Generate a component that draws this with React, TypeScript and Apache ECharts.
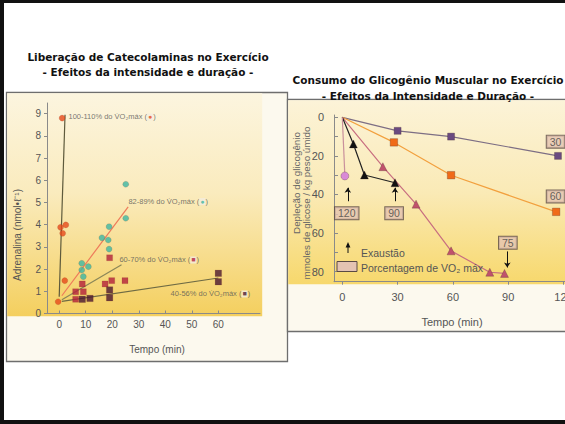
import React, { useEffect, useRef } from "react";
import * as echarts from "echarts";

// ---------- Left chart data (Adrenalina x Tempo) ----------
const leftXTicks = [0, 10, 20, 30, 40, 50, 60];
const leftYTicks = [0, 1, 2, 3, 4, 5, 6, 7, 8, 9];
const pts100 = [[-0.4, 0.53], [1.1, 8.8], [0.5, 3.88], [1.3, 3.61], [2.5, 3.99], [2.1, 1.48]];
const pts82 = [[8.5, 2.26], [8.5, 1.96], [9.1, 1.66], [11, 2.11], [16.1, 3.41], [18.8, 3.91], [18.5, 3.31], [18.8, 2.9], [25.1, 5.82], [25.1, 4.29]];
const pts60 = [[6.2, 0.98], [6.2, 0.64], [8.7, 1.33], [9.1, 0.98], [17.3, 1.33], [19.8, 1.48], [19.0, 2.51], [24.8, 1.48]];
const pts40 = [[8.7, 0.64], [11.6, 0.68], [19.0, 1.06], [19.0, 0.71], [60, 1.81], [60, 1.43]];
const fit100 = [[0, 0.75], [2.2, 8.95]];
const fit82 = [[1, 0.8], [26, 4.8]];
const fit60 = [[1, 0.62], [23.5, 2.2]];
const fit40 = [[1, 0.55], [60, 1.6]];
const leftLabelTexts = ["100-110% do V\u0307O\u2082máx", "82-89% do V\u0307O\u2082máx", "60-70% do V\u0307O\u2082máx", "40-56% do V\u0307O\u2082máx"];
const leftLabelPos = [[3.3, 8.85], [25.9, 5.04], [22.5, 2.41], [41.8, 0.88]];
const leftLabelGlyphs = ["●", "●", "■", "■"];

// ---------- Right chart data (Glicogênio x Tempo) ----------
const rightXTicks = [0, 30, 60, 90, 120];
const rightYLabels = [0, 20, 40, 60, 80];
const rightYTicks = [0, 10, 20, 30, 40, 50, 60, 70, 80];
const glyco30 = [[0, 0], [30, 7], [59, 10], [117, 20]];
const glyco60 = [[0, 0], [28, 13], [59, 30], [116, 49]];
const glyco75 = [[0, 0], [22, 25.6], [40, 45], [59, 69.2], [80, 80.3], [88, 80.9]];
const glyco90 = [[0, 0], [6, 13.8], [12, 29.9], [28.6, 33.9]];
const glyco120 = [[0, 0], [1.4, 30.4]];
const pctBoxPos = [[115.7, 12.6], [115.7, 41], [2.4, 49.7], [28.1, 49.7], [89.8, 65]];
const pctBoxText = ["30", "60", "120", "90", "75"];
const exhaustArrows = [[3, 43.5, 36.5], [28.6, 43.5, 36.5], [89.5, 69.5, 77.8]];

const C100 = "#e64a1a";
const C82 = "#3db7a2";
const C60 = "#b3213b";
const C40 = "#4a1730";
const FONT = '"Liberation Sans", Arial, sans-serif';
const TFONT = '"Comic Sans MS", "DejaVu Sans", sans-serif';

export default function App() {
  const ref = useRef<HTMLDivElement>(null);
  useEffect(() => {
    if (!ref.current) return;
    const chart = echarts.init(ref.current, undefined, { renderer: "svg" });

    const scatter = (data: number[][], symbol: string, color: string, size: number) => ({
      type: "scatter", xAxisIndex: 0, yAxisIndex: 0, data, symbol, symbolSize: size,
      itemStyle: { color, borderColor: "rgba(120,40,20,0.35)", borderWidth: 0.5 }, z: 4,
    });
    const fit = (data: number[][], color: string) => ({
      type: "line", xAxisIndex: 0, yAxisIndex: 0, data, symbol: "none",
      lineStyle: { color, width: 1.2 }, z: 3,
    });
    const glyco = (data: number[][], symbol: string, color: string, lineColor: string, size: number) => ({
      type: "line", xAxisIndex: 1, yAxisIndex: 1, symbol, symbolSize: size,
      data: data.map((d, i) => (i === 0 ? { value: d, symbol: "none" } : d)),
      itemStyle: { color, borderColor: "rgba(60,30,30,0.5)", borderWidth: 0.5 },
      lineStyle: { color: lineColor, width: 1.2 }, z: 3,
    });
    const glyphColors = [C100, C82, C60, C40];

    const gradLeft = { type: "linear", x: 0, y: 0, x2: 0, y2: 1, colorStops: [
      { offset: 0, color: "#fcf5df" }, { offset: 0.45, color: "#faebbd" }, { offset: 1, color: "#f4cf5e" }] };
    const gradRight = { type: "linear", x: 0, y: 0, x2: 0, y2: 1, colorStops: [
      { offset: 0, color: "#fcf3d8" }, { offset: 0.5, color: "#faeab6" }, { offset: 1, color: "#f7d86c" }] };

    chart.setOption({
      animation: false,
      backgroundColor: "#ffffff",
      grid: [
        { left: 47, right: 305, top: 103, bottom: 110.5, outerBoundsMode: "none", containLabel: false },
        { left: 334, right: 0, top: 115, bottom: 142.3, outerBoundsMode: "none", containLabel: false },
      ],
      xAxis: [
        {
          type: "value", gridIndex: 0, min: -4.6, max: 75.7,
          axisLine: { onZero: false, lineStyle: { color: "#8a8a8a", width: 1 } },
          axisTick: { inside: true, length: 3, customValues: leftXTicks, lineStyle: { color: "#8a8a8a" } },
          axisLabel: { customValues: leftXTicks, margin: 6, fontSize: 10, color: "#555", fontFamily: FONT },
          splitLine: { show: false },
        },
        {
          type: "value", gridIndex: 1, min: -4.5, max: 120.8,
          axisLine: { onZero: false, lineStyle: { color: "#8a8a8a", width: 1 } },
          axisTick: { inside: false, length: 3, customValues: rightXTicks, lineStyle: { color: "#8a8a8a" } },
          axisLabel: { customValues: rightXTicks, margin: 10, fontSize: 11, color: "#555", fontFamily: FONT, hideOverlap: false },
          splitLine: { show: false },
        },
      ],
      yAxis: [
        {
          type: "value", gridIndex: 0, min: 0, max: 9.48,
          axisLine: { show: true, onZero: false, lineStyle: { color: "#8a8a8a", width: 1 } },
          axisTick: { show: true, inside: false, length: 3, customValues: leftYTicks, lineStyle: { color: "#8a8a8a" } },
          axisLabel: { customValues: leftYTicks, margin: 6, fontSize: 10, color: "#555", fontFamily: FONT },
          splitLine: { show: false },
        },
        {
          type: "value", gridIndex: 1, min: -1.2, max: 85.2, inverse: true,
          axisLine: { show: true, onZero: false, lineStyle: { color: "#8a8a8a", width: 1 } },
          axisTick: { show: true, inside: true, length: 4, customValues: rightYTicks, lineStyle: { color: "#8a8a8a" } },
          axisLabel: { customValues: rightYLabels, margin: 10, fontSize: 11, color: "#555", fontFamily: FONT },
          splitLine: { show: false },
        },
      ],
      graphic: [
        { type: "rect", z: -20, shape: { x: 6.5, y: 92.5, width: 281, height: 269 }, style: { fill: "#fcf9ee", stroke: "#6e6e6e", lineWidth: 1.3 } },
        { type: "rect", z: -19, shape: { x: 7.2, y: 93.2, width: 255, height: 223 }, style: { fill: gradLeft } },
        { type: "rect", z: -18, shape: { x: 287.5, y: 99.5, width: 300, height: 232 }, style: { fill: "#fcf9ee", stroke: "#6e6e6e", lineWidth: 1.3 } },
        { type: "rect", z: -17, shape: { x: 288.2, y: 100.2, width: 290, height: 184 }, style: { fill: gradRight } },
        { type: "rect", z: 50, shape: { x: 0, y: 0, width: 565, height: 3 }, style: { fill: "#111" } },
        { type: "rect", z: 50, shape: { x: 0, y: 0, width: 4, height: 424 }, style: { fill: "#111" } },
        { type: "rect", z: 50, shape: { x: 0, y: 420, width: 565, height: 4 }, style: { fill: "#111" } },
        { type: "text", z: 50, x: 148, y: 57, style: { text: "Liberação de Catecolaminas no Exercício", font: `bold 10.5px ${TFONT}`, fill: "#111", textAlign: "center", textVerticalAlign: "middle" } },
        { type: "text", z: 50, x: 148, y: 72, style: { text: "- Efeitos da intensidade e duração -", font: `bold 10.5px ${TFONT}`, fill: "#111", textAlign: "center", textVerticalAlign: "middle" } },
        { type: "text", z: 50, x: 428, y: 80, style: { text: "Consumo do Glicogênio Muscular no Exercício", font: `bold 10.5px ${TFONT}`, fill: "#111", textAlign: "center", textVerticalAlign: "middle" } },
        { type: "text", z: 50, x: 428, y: 96, style: { text: "- Efeitos da Intensidade e Duração -", font: `bold 10.5px ${TFONT}`, fill: "#111", textAlign: "center", textVerticalAlign: "middle" } },
        { type: "text", z: 50, x: 157, y: 349, style: { text: "Tempo (min)", font: `10px ${FONT}`, fill: "#555", textAlign: "center", textVerticalAlign: "middle" } },
        { type: "text", z: 50, x: 17, y: 235, rotation: Math.PI / 2, style: { text: "Adrenalina (nmol•ℓ⁻¹)", font: `10px ${FONT}`, fill: "#555", textAlign: "center", textVerticalAlign: "middle" } },
        { type: "text", z: 50, x: 452, y: 322, style: { text: "Tempo (min)", font: `11px ${FONT}`, fill: "#555", textAlign: "center", textVerticalAlign: "middle" } },
        { type: "text", z: 50, x: 296, y: 183, rotation: Math.PI / 2, style: { text: "Depleção de glicogênio", font: `9.8px ${FONT}`, fill: "#666", textAlign: "center", textVerticalAlign: "middle" } },
        { type: "text", z: 50, x: 306, y: 203, rotation: Math.PI / 2, style: { text: "mmoles de glicose / kg peso úmido", font: `9.8px ${FONT}`, fill: "#666", textAlign: "center", textVerticalAlign: "middle" } },
        { type: "line", z: 50, shape: { x1: 348, y1: 253, x2: 348, y2: 246 }, style: { stroke: "#111", lineWidth: 1 } },
        { type: "polygon", z: 50, shape: { points: [[345.6, 247.5], [350.4, 247.5], [348, 242]] }, style: { fill: "#111" } },
        { type: "text", z: 50, x: 361, y: 253, style: { text: "Exaustão", font: `10.5px ${FONT}`, fill: "#555", textVerticalAlign: "middle" } },
        { type: "rect", z: 50, shape: { x: 337, y: 261.5, width: 20, height: 10 }, style: { fill: "#e4c3b2", stroke: "#5a4a44", lineWidth: 1 } },
        { type: "text", z: 50, x: 361, y: 268, style: { text: "Porcentagem de VO₂ máx", font: `10.5px ${FONT}`, fill: "#555", textVerticalAlign: "middle" } },
      ],
      series: [
        fit(fit100, "#5e5a3c"),
        fit(fit82, "#ee7a5a"),
        fit(fit60, "#8a8658"),
        fit(fit40, "#6e6a44"),
        scatter(pts60, "rect", C60, 6),
        scatter(pts40, "rect", C40, 6.5),
        scatter(pts82, "circle", C82, 6),
        scatter(pts100, "circle", C100, 6),
        {
          type: "scatter", xAxisIndex: 0, yAxisIndex: 0, symbol: "circle", symbolSize: 1,
          itemStyle: { color: "rgba(0,0,0,0)" }, z: 5,
          data: leftLabelPos.map((p, i) => ({
            value: p,
            label: {
              show: true, position: "right", distance: 0,
              formatter: `{t|${leftLabelTexts[i]} (}{m|${leftLabelGlyphs[i]}}{t|)}`,
              rich: {
                t: { fontSize: 7.5, color: "#555", fontFamily: FONT },
                m: { fontSize: 7, color: glyphColors[i], fontFamily: FONT, backgroundColor: "#f3ece0", padding: [0, 1] },
              },
            },
          })),
        },
        glyco(glyco30, "rect", "#6a4a80", "#7d6e84", 7),
        glyco(glyco60, "rect", "#f06a18", "#f2a03e", 7.5),
        glyco(glyco75, "triangle", "#c0526c", "#c86e80", 8),
        glyco(glyco90, "triangle", "#111111", "#222222", 8),
        glyco(glyco120, "circle", "#d98ad6", "#c9909c", 8),
        {
          type: "scatter", xAxisIndex: 1, yAxisIndex: 1, symbol: "circle", symbolSize: 1,
          itemStyle: { color: "rgba(0,0,0,0)" }, z: 6,
          data: pctBoxPos.map((p, i) => ({ value: p, name: pctBoxText[i] })),
          label: {
            show: true, position: "inside", formatter: (p: any) => p.name,
            fontSize: 10.5, color: "#444", fontFamily: FONT,
            backgroundColor: "#e4c3b2", borderColor: "#5a4a44", borderWidth: 1, padding: [1, 3, 0, 3],
          },
        },
        {
          type: "lines", coordinateSystem: "cartesian2d", xAxisIndex: 1, yAxisIndex: 1, z: 6,
          symbol: ["none", "arrow"], symbolSize: 5,
          lineStyle: { color: "#111", width: 1, opacity: 1 },
          data: exhaustArrows.map((a) => ({ coords: [[a[0], a[1]], [a[0], a[2]]] })),
        },
      ],
    });
    return () => chart.dispose();
  }, []);
  return <div ref={ref} style={{ position: "absolute", left: 0, top: 0, width: 565, height: 424 }} />;
}
